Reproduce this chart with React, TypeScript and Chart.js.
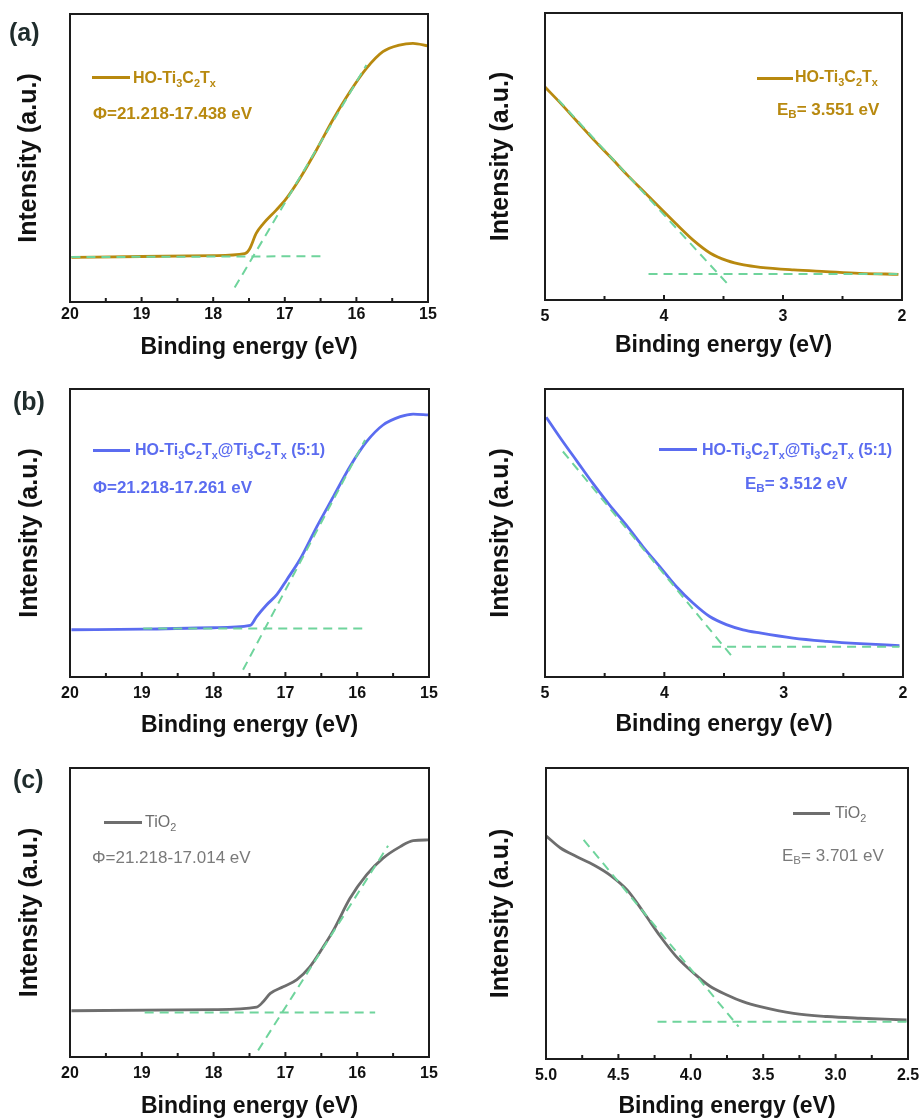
import React, { useEffect, useRef } from "react";
import { Chart, registerables } from "chart.js";
Chart.register(...registerables);

// ---------- DATA ----------
// (a) HO-Ti3C2Tx, secondary electron cutoff
const cutoffEnergyA = [19.98, 19.0, 18.0, 17.56, 17.49, 17.4, 17.3, 17.12, 16.98, 16.79, 16.56, 16.33, 16.09, 15.86, 15.63, 15.4, 15.21, 15.0];
const cutoffIntensityA = [15.5, 15.8, 16.1, 16.8, 18.5, 23.8, 27.2, 31.9, 35.9, 42.9, 52.7, 63.2, 73.0, 81.1, 86.9, 89.2, 89.8, 88.9];
const cutoffSlopeEA = [17.7, 15.86];
const cutoffSlopeIA = [5.0, 82.3];
const cutoffBaseEA = [19.98, 16.49];
const cutoffBaseIA = [15.6, 15.9];
// (a) valence band edge
const vbEnergyA = [5.0, 4.87, 4.73, 4.59, 4.45, 4.31, 4.17, 4.03, 3.89, 3.75, 3.61, 3.47, 3.33, 3.19, 2.91, 2.64, 2.36, 2.03];
const vbIntensityA = [74.2, 68.6, 62.2, 55.8, 49.8, 43.6, 37.8, 32.0, 26.2, 20.7, 16.3, 13.7, 12.2, 11.4, 10.5, 9.9, 9.3, 8.95];
const vbSlopeEA = [4.89, 3.47];
const vbSlopeIA = [69.8, 5.8];
const vbBaseEA = [4.13, 2.03];
const vbBaseIA = [9.07, 9.07];

// (b) HO-Ti3C2Tx@Ti3C2Tx (5:1)
const cutoffEnergyB = [19.98, 18.98, 18.0, 17.49, 17.4, 17.26, 17.12, 16.98, 16.8, 16.56, 16.33, 16.1, 15.87, 15.64, 15.4, 15.22, 15.01];
const cutoffIntensityB = [16.4, 16.6, 17.1, 17.9, 21.0, 25.1, 28.6, 33.8, 40.7, 52.3, 62.7, 73.1, 81.7, 87.5, 90.4, 91.3, 91.0];
const cutoffSlopeEB = [17.59, 15.89];
const cutoffSlopeIB = [2.5, 82.3];
const cutoffBaseEB = [18.98, 15.89];
const cutoffBaseIB = [16.8, 16.8];
const vbEnergyB = [4.99, 4.87, 4.73, 4.6, 4.46, 4.32, 4.18, 4.04, 3.9, 3.76, 3.62, 3.48, 3.34, 3.2, 2.92, 2.64, 2.36, 2.03];
const vbIntensityB = [90.2, 82.9, 74.8, 67.3, 59.8, 52.8, 45.3, 38.4, 31.4, 25.7, 21.0, 18.2, 16.4, 15.3, 13.5, 12.4, 11.6, 10.9];
const vbSlopeEB = [4.85, 3.41];
const vbSlopeIB = [78.3, 6.0];
const vbBaseEB = [3.6, 2.03];
const vbBaseIB = [10.5, 10.5];

// (c) TiO2
const cutoffEnergyC = [19.98, 18.0, 17.4, 17.31, 17.21, 17.03, 16.84, 16.66, 16.47, 16.33, 16.1, 15.87, 15.64, 15.4, 15.22, 15.01];
const cutoffIntensityC = [16.0, 16.4, 17.3, 19.1, 22.0, 24.3, 26.8, 31.2, 38.2, 43.9, 54.9, 63.0, 68.8, 72.8, 74.9, 75.1];
const cutoffSlopeEC = [17.38, 15.57];
const cutoffSlopeIC = [2.3, 73.1];
const cutoffBaseEC = [18.96, 15.75];
const cutoffBaseIC = [15.4, 15.4];
const vbEnergyC = [5.0, 4.9, 4.79, 4.67, 4.56, 4.44, 4.33, 4.21, 4.1, 3.98, 3.87, 3.75, 3.64, 3.52, 3.29, 3.06, 2.83, 2.51];
const vbIntensityC = [76.7, 72.5, 69.6, 66.7, 63.3, 58.1, 50.7, 42.1, 35.2, 29.5, 25.1, 22.0, 19.7, 18.0, 15.7, 14.6, 14.0, 13.4];
const vbSlopeEC = [4.74, 3.67];
const vbSlopeIC = [75.3, 11.1];
const vbBaseEC = [4.23, 2.51];
const vbBaseIC = [12.8, 12.8];

// ---------- TEXT ----------
const X_TITLE = "Binding energy (eV)";
const Y_TITLE = "Intensity (a.u.)";

// ---------- STYLE ----------
const GOLD = "#b8890f";
const BLUE = "#5b6cf0";
const GRAY = "#6e6e6e";
const GREEN = "#6fd49c";
const FONT = "'Liberation Sans', Arial, Helvetica, sans-serif";

type Spec = {
  left: number; top: number; width: number; height: number;
  pl: number; pt: number; pr: number; pb: number;
  xMin: number; xMax: number; step: number; decimals: number;
  yTitleX: number; tickMid: number; xTitleMid: number;
  curveE: number[]; curveI: number[];
  slopeE: number[]; slopeI: number[];
  baseE: number[]; baseI: number[];
  color: string;
};

const pts = (xs: number[], ys: number[]) => xs.map((x, i) => ({ x, y: ys[i] }));

function Panel({ s }: { s: Spec }) {
  const ref = useRef<HTMLCanvasElement>(null);
  useEffect(() => {
    const plotL = s.pl - s.left;
    const plotT = s.pt - s.top;
    const plotR = s.pr - s.left;
    const plotB = s.pb - s.top;
    const tickFont = 16;
    const xTitleFont = 23;
    const yTitleFont = 25;
    const framePlugin = {
      id: "frame",
      afterDraw(chart: any) {
        const { ctx, chartArea: a, scales } = chart;
        ctx.save();
        ctx.strokeStyle = "#1c1c1c";
        ctx.lineWidth = 2;
        ctx.strokeRect(a.left, a.top, a.right - a.left, a.bottom - a.top);
        const xs = scales.x;
        const minor = s.step / 2;
        const n = Math.round((s.xMax - s.xMin) / minor);
        for (let k = 1; k < n; k++) {
          const v = s.xMin + k * minor;
          const px = xs.getPixelForValue(v);
          const major = k % 2 === 0;
          ctx.beginPath();
          ctx.moveTo(px, a.bottom);
          ctx.lineTo(px, a.bottom - (major ? 5 : 4));
          ctx.stroke();
        }
        ctx.restore();
      },
    };
    const chart = new Chart(ref.current as HTMLCanvasElement, {
      type: "line",
      data: {
        datasets: [
          { data: pts(s.slopeE, s.slopeI), borderColor: GREEN, borderDash: [9, 6], borderWidth: 2, pointRadius: 0, fill: false },
          { data: pts(s.baseE, s.baseI), borderColor: GREEN, borderDash: [9, 6], borderWidth: 2, pointRadius: 0, fill: false },
          { data: pts(s.curveE, s.curveI), borderColor: s.color, borderWidth: 2.8, pointRadius: 0, fill: false, cubicInterpolationMode: "monotone" },
        ],
      } as any,
      options: {
        animation: false,
        responsive: false,
        maintainAspectRatio: false,
        layout: { padding: { left: 0, top: plotT, right: s.width - plotR, bottom: 0 } },
        plugins: { legend: { display: false }, tooltip: { enabled: false } },
        scales: {
          x: {
            type: "linear",
            reverse: true,
            min: s.xMin,
            max: s.xMax,
            position: "bottom",
            grid: { display: false, drawTicks: false },
            border: { display: false },
            ticks: {
              stepSize: s.step,
              autoSkip: false,
              maxRotation: 0,
              minRotation: 0,
              color: "#111",
              padding: s.tickMid - s.pb - tickFont * 0.6,
              font: { family: FONT, size: tickFont, weight: "bold" },
              callback: (v: any) => Number(v).toFixed(s.decimals),
            },
            title: {
              display: true,
              text: X_TITLE,
              color: "#111",
              font: { family: FONT, size: xTitleFont, weight: "bold", lineHeight: 1 },
              padding: { top: 0, bottom: s.height - (s.xTitleMid - s.top) - xTitleFont / 2 },
            },
            afterFit: (scale: any) => { scale.height = s.height - plotB; },
          },
          y: {
            type: "linear",
            min: 0,
            max: 100,
            grid: { display: false, drawTicks: false },
            border: { display: false },
            ticks: { display: false },
            title: {
              display: true,
              text: Y_TITLE,
              color: "#111",
              font: { family: FONT, size: yTitleFont, weight: "bold", lineHeight: 1 },
              padding: { top: s.yTitleX - s.left - yTitleFont / 2, bottom: 0 },
            },
            afterFit: (scale: any) => { scale.width = plotL; },
          },
        },
      } as any,
      plugins: [framePlugin],
    });
    return () => chart.destroy();
  }, [s]);
  return (
    <canvas
      ref={ref}
      width={s.width}
      height={s.height}
      style={{ position: "absolute", left: s.left, top: s.top, width: s.width, height: s.height }}
    />
  );
}

const SPECS: Spec[] = [
  { left: 0, top: 0, width: 460, height: 370, pl: 70, pt: 14, pr: 428, pb: 302, xMin: 15, xMax: 20, step: 1, decimals: 0,
    yTitleX: 29, tickMid: 315, xTitleMid: 348,
    curveE: cutoffEnergyA, curveI: cutoffIntensityA, slopeE: cutoffSlopeEA, slopeI: cutoffSlopeIA, baseE: cutoffBaseEA, baseI: cutoffBaseIA, color: GOLD },
  { left: 460, top: 0, width: 475, height: 370, pl: 545, pt: 13, pr: 902, pb: 300, xMin: 2, xMax: 5, step: 1, decimals: 0,
    yTitleX: 501, tickMid: 317, xTitleMid: 346,
    curveE: vbEnergyA, curveI: vbIntensityA, slopeE: vbSlopeEA, slopeI: vbSlopeIA, baseE: vbBaseEA, baseI: vbBaseIA, color: GOLD },
  { left: 0, top: 370, width: 460, height: 370, pl: 70, pt: 389, pr: 429, pb: 677, xMin: 15, xMax: 20, step: 1, decimals: 0,
    yTitleX: 30, tickMid: 694, xTitleMid: 726,
    curveE: cutoffEnergyB, curveI: cutoffIntensityB, slopeE: cutoffSlopeEB, slopeI: cutoffSlopeIB, baseE: cutoffBaseEB, baseI: cutoffBaseIB, color: BLUE },
  { left: 460, top: 370, width: 475, height: 370, pl: 545, pt: 389, pr: 903, pb: 677, xMin: 2, xMax: 5, step: 1, decimals: 0,
    yTitleX: 501, tickMid: 694, xTitleMid: 725,
    curveE: vbEnergyB, curveI: vbIntensityB, slopeE: vbSlopeEB, slopeI: vbSlopeIB, baseE: vbBaseEB, baseI: vbBaseIB, color: BLUE },
  { left: 0, top: 740, width: 460, height: 380, pl: 70, pt: 768, pr: 429, pb: 1057, xMin: 15, xMax: 20, step: 1, decimals: 0,
    yTitleX: 30, tickMid: 1074, xTitleMid: 1107,
    curveE: cutoffEnergyC, curveI: cutoffIntensityC, slopeE: cutoffSlopeEC, slopeI: cutoffSlopeIC, baseE: cutoffBaseEC, baseI: cutoffBaseIC, color: GRAY },
  { left: 460, top: 740, width: 475, height: 380, pl: 546, pt: 768, pr: 908, pb: 1059, xMin: 2.5, xMax: 5, step: 0.5, decimals: 1,
    yTitleX: 501, tickMid: 1076, xTitleMid: 1107,
    curveE: vbEnergyC, curveI: vbIntensityC, slopeE: vbSlopeEC, slopeI: vbSlopeIC, baseE: vbBaseEC, baseI: vbBaseIC, color: GRAY },
];

const Sub = ({ children }: { children: React.ReactNode }) => (
  <span style={{ fontSize: "0.68em", position: "relative", top: "0.3em", lineHeight: 0 }}>{children}</span>
);

const Ti3C2Tx = () => (
  <>HO-Ti<Sub>3</Sub>C<Sub>2</Sub>T<Sub>x</Sub></>
);
const Composite = () => (
  <>HO-Ti<Sub>3</Sub>C<Sub>2</Sub>T<Sub>x</Sub>@Ti<Sub>3</Sub>C<Sub>2</Sub>T<Sub>x</Sub> (5:1)</>
);
const TiO2 = () => (<>TiO<Sub>2</Sub></>);

function Txt({ x, base, size, color, bold, children }: any) {
  return (
    <div style={{ position: "absolute", left: x, top: base - 0.8465 * size, fontSize: size, lineHeight: 1,
      fontFamily: FONT, fontWeight: bold ? 700 : 400, color, whiteSpace: "nowrap" }}>{children}</div>
  );
}
function LegLine({ x1, x2, y, color }: any) {
  return <div style={{ position: "absolute", left: x1, top: y - 1.5, width: x2 - x1, height: 3, background: color }} />;
}

export default function App() {
  return (
    <div style={{ position: "absolute", left: 0, top: 0, width: 922, height: 1120, background: "#fff", overflow: "hidden" }}>
      {SPECS.map((s, i) => <Panel key={i} s={s} />)}

      <Txt x={9} base={41.5} size={25} color="#1f2c2c" bold>(a)</Txt>
      <Txt x={13} base={410} size={25} color="#1f2c2c" bold>(b)</Txt>
      <Txt x={13} base={788} size={25} color="#1f2c2c" bold>(c)</Txt>

      {/* (a) left */}
      <LegLine x1={92} x2={130} y={77} color={GOLD} />
      <Txt x={133} base={84} size={16} color={GOLD} bold><Ti3C2Tx /></Txt>
      <Txt x={93} base={119} size={17} color={GOLD} bold>Φ=21.218-17.438 eV</Txt>
      {/* (a) right */}
      <LegLine x1={757} x2={793} y={78} color={GOLD} />
      <Txt x={795} base={83} size={16} color={GOLD} bold><Ti3C2Tx /></Txt>
      <Txt x={777} base={115} size={17} color={GOLD} bold>E<Sub>B</Sub>= 3.551 eV</Txt>

      {/* (b) left */}
      <LegLine x1={93} x2={130} y={450} color={BLUE} />
      <Txt x={135} base={456} size={16} color={BLUE} bold><Composite /></Txt>
      <Txt x={93} base={493} size={17} color={BLUE} bold>Φ=21.218-17.261 eV</Txt>
      {/* (b) right */}
      <LegLine x1={659} x2={697} y={449} color={BLUE} />
      <Txt x={702} base={456} size={16} color={BLUE} bold><Composite /></Txt>
      <Txt x={745} base={489} size={17} color={BLUE} bold>E<Sub>B</Sub>= 3.512 eV</Txt>

      {/* (c) left */}
      <LegLine x1={104} x2={142} y={822} color={GRAY} />
      <Txt x={145} base={828} size={16} color={GRAY}><TiO2 /></Txt>
      <Txt x={92} base={863} size={17} color="#7a7a7a">Φ=21.218-17.014 eV</Txt>
      {/* (c) right */}
      <LegLine x1={793} x2={830} y={813} color={GRAY} />
      <Txt x={835} base={819} size={16} color={GRAY}><TiO2 /></Txt>
      <Txt x={782} base={861} size={17} color="#7a7a7a">E<Sub>B</Sub>= 3.701 eV</Txt>
    </div>
  );
}
